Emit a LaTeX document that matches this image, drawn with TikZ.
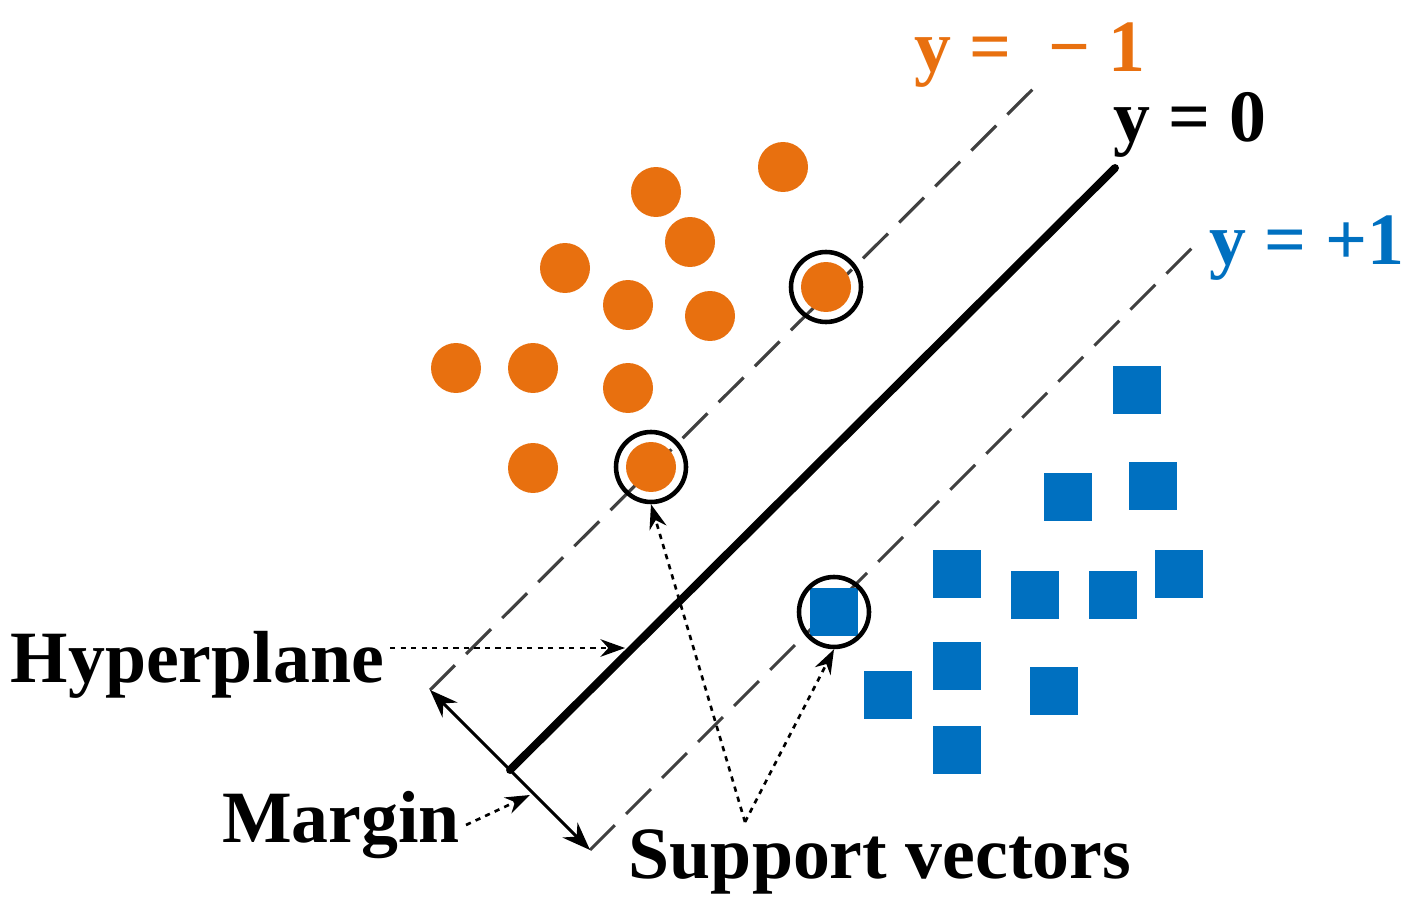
\documentclass[tikz,border=0pt]{standalone}
\usepackage{fontspec}
\setmainfont{Liberation Serif}
\usetikzlibrary{arrows.meta}
\definecolor{org}{HTML}{E8700F}
\definecolor{blu}{HTML}{0070C0}
\begin{document}
\begin{tikzpicture}[x=0.02cm,y=-0.02cm,
 dot/.style={circle,fill=org,minimum size=1cm,inner sep=0},
 sq/.style={rectangle,fill=blu,minimum size=0.95cm,inner sep=0},
 sv/.style={circle,draw=black,line width=2.6pt,minimum size=1.4cm,inner sep=0},
 lbl/.style={font=\fontsize{42}{44}\selectfont\bfseries},
 dl/.style={dash pattern=on 20pt off 9pt,line width=1.8pt,draw=black!75},
 da/.style={dashed,line width=1.5pt,-{Stealth[length=14pt,width=10pt]}}]
\useasboundingbox (0,0) rectangle (1416,918);
\coordinate (u1) at (430,690); \coordinate (u2) at (1035,87);
\coordinate (l1) at (590,850); \coordinate (l2) at (1195,245);
\coordinate (m1) at (510,770); \coordinate (m2) at (1115,168);
\draw[dl] (u1)--(u2);
\draw[dl] (l1)--(l2);
\draw[line width=4.5pt,line cap=round] (m1)--(m2);
\foreach \i/\p in {1/{783,167},2/{656,192},3/{690,242},4/{565,268},5/{628,305},6/{710,316},7/{456,368},8/{533,368},9/{628,388},10/{533,468},11/{651,467},12/{826,287}}
 \node[dot] (o\i) at (\p) {};
\foreach \i/\p in {1/{1137,390},2/{1068,497},3/{1153,486},4/{957,574},5/{1035,595},6/{1113,595},7/{1179,574},8/{834,612},9/{957,666},10/{888,695},11/{1054,691},12/{957,750}}
 \node[sq] (b\i) at (\p) {};
\node[sv] (s1) at (826,287) {};
\node[sv] (s2) at (651,467) {};
\node[sv] (s3) at (834,612) {};
\node[lbl,text=org] (tm) at (1030,55) {y =\ \ − 1};
\node[lbl] (t0) at (1190,125) {y = 0};
\node[lbl,text=blu] (tp) at (1307,248) {y = +1};
\node[lbl,anchor=east] (hp) at (390,665) {Hyperplane};
\node[lbl,anchor=east] (mg) at (466,825) {Margin};
\node[lbl] (svt) at (880,862) {Support vectors};
\coordinate (ha) at (625,648);
\draw[da] (hp.east|-ha) -- (ha);
\coordinate (ma) at (530,795);
\draw[da] (mg.east) -- (ma);
\coordinate (sb) at (745,822);
\draw[da] (sb) -- (s2.south);
\draw[da] (sb) -- (s3.south);
\draw[line width=1.8pt,-{Stealth[length=16pt,width=12pt]}] (m1)--(u1);
\draw[line width=1.8pt,-{Stealth[length=16pt,width=12pt]}] (m1)--(l1);
\end{tikzpicture}
\end{document}
